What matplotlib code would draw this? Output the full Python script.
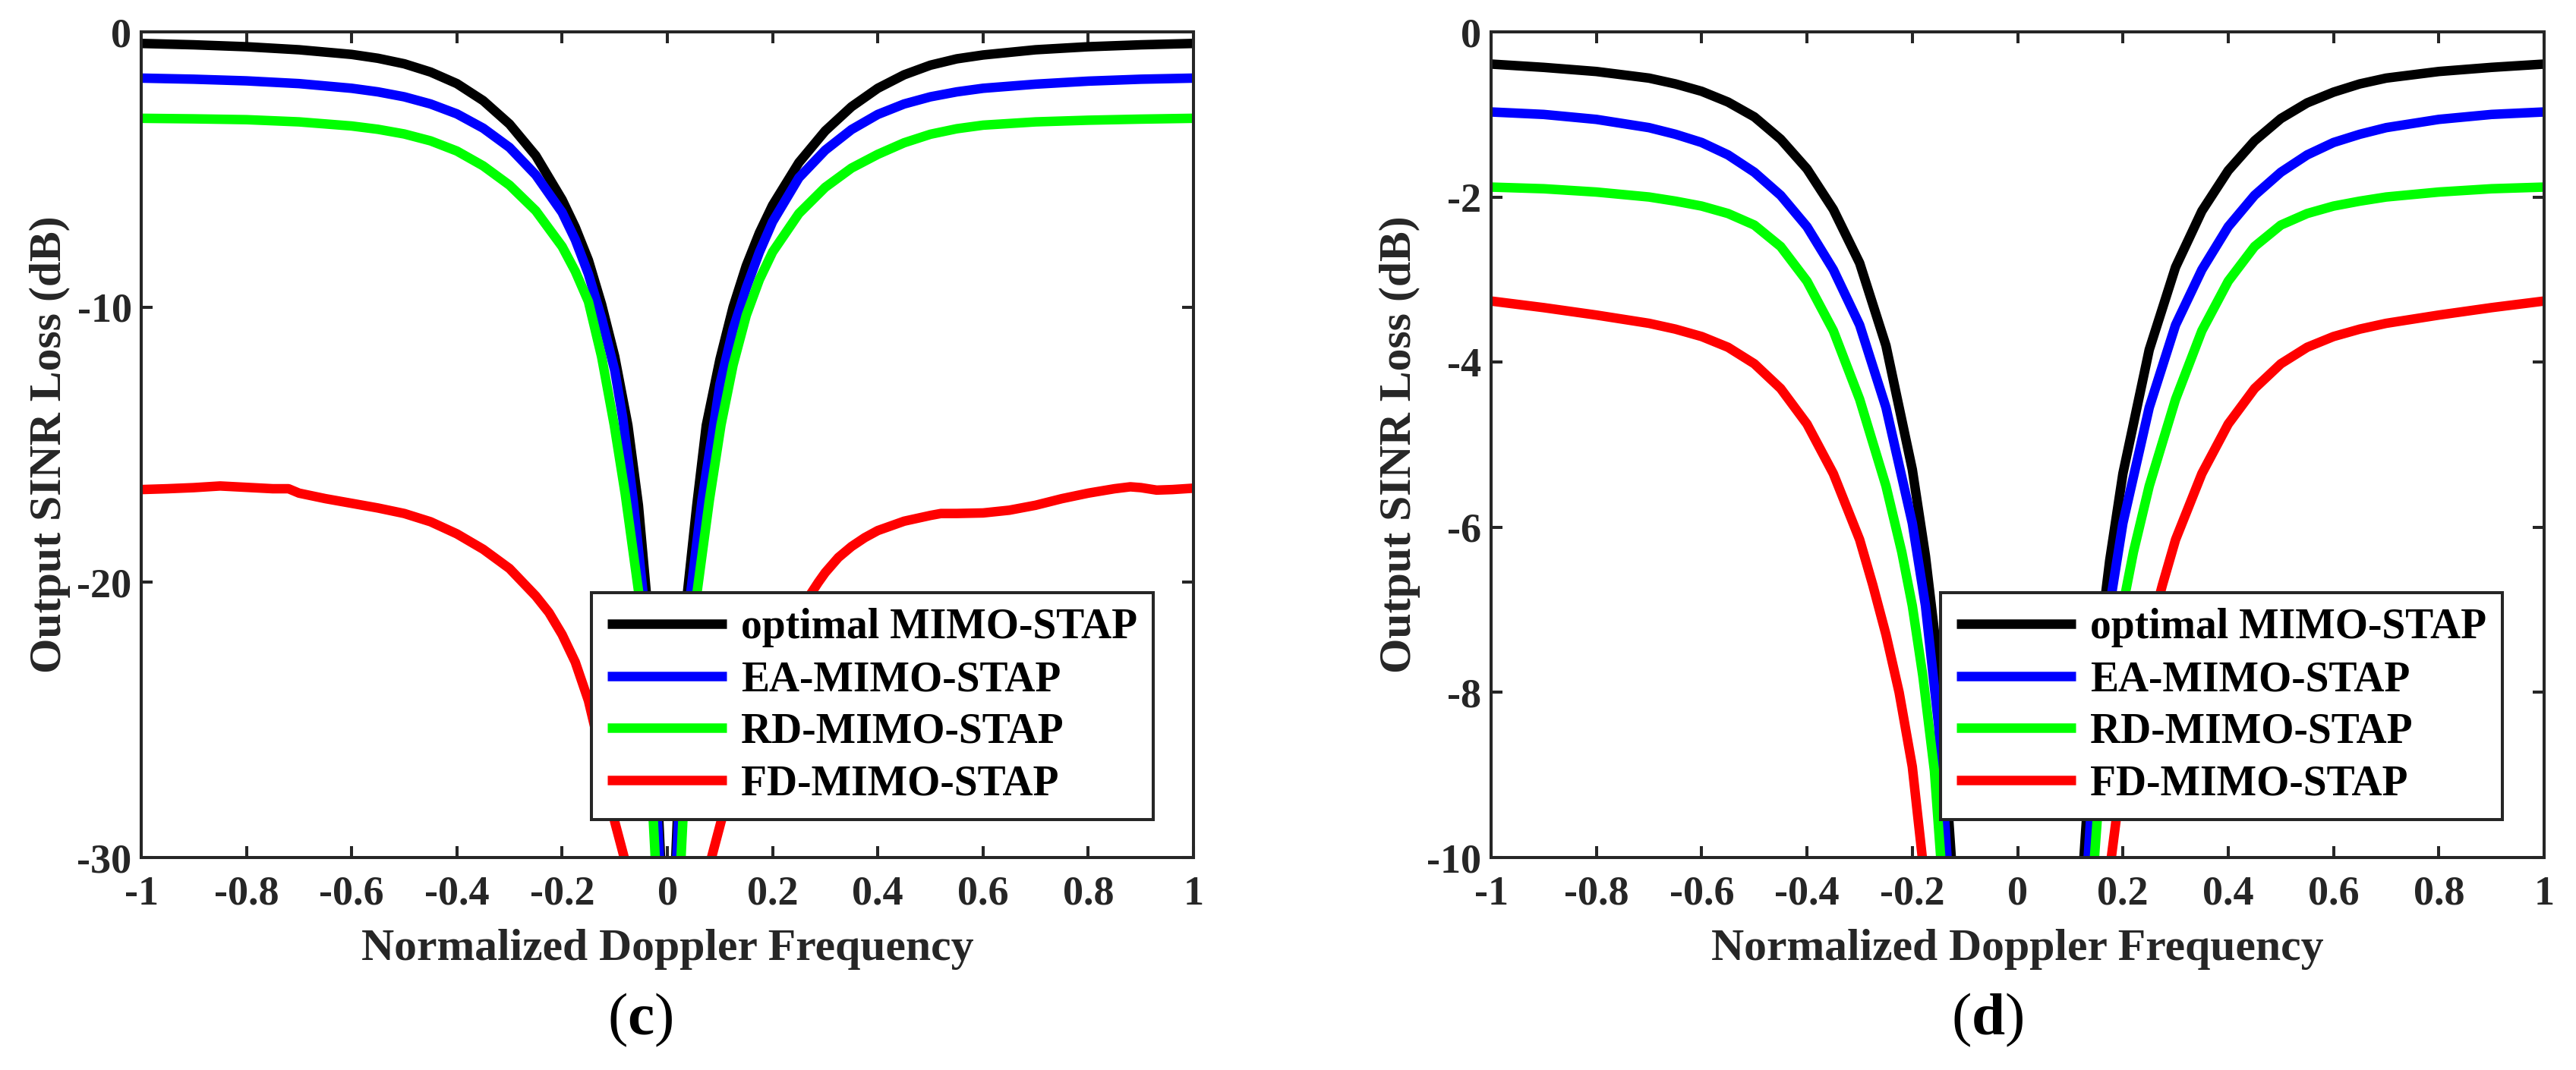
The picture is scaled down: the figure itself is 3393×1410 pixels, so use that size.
import matplotlib
matplotlib.use("Agg")
import matplotlib.pyplot as plt

plt.rcParams['font.family'] = ['Liberation Serif', 'DejaVu Serif']
plt.rcParams['font.weight'] = 'bold'
plt.rcParams['axes.labelweight'] = 'bold'
plt.rcParams['axes.unicode_minus'] = False
plt.rcParams['mathtext.fontset'] = 'custom'
plt.rcParams['mathtext.rm'] = 'Liberation Serif'
plt.rcParams['mathtext.bf'] = 'Liberation Serif:bold'

# ---------------- data: panel (c) ----------------
c_opt_x = [-1, -0.9, -0.8, -0.7, -0.6, -0.55, -0.5, -0.45, -0.4, -0.35, -0.3, -0.25, -0.2, -0.175, -0.15, -0.125,
           -0.1, -0.075, -0.055, -0.039, -0.026, -0.013, 0.0,
           0.016, 0.028, 0.037, 0.056, 0.074, 0.1, 0.125, 0.15, 0.175, 0.2, 0.25, 0.3, 0.35, 0.4, 0.45, 0.5,
           0.55, 0.6, 0.7, 0.8, 0.9, 1.0]
c_opt_y = [-0.42, -0.47, -0.54, -0.65, -0.82, -0.96, -1.16, -1.46, -1.88, -2.5, -3.35, -4.5, -6.1, -7.1, -8.3, -9.9,
           -11.8, -14.3, -17.2, -20.6, -24.5, -30.0, -40.0,
           -30.0, -24.5, -20.6, -17.2, -14.3, -11.9, -10.0, -8.5, -7.3, -6.3, -4.75, -3.6, -2.72, -2.05, -1.56, -1.21,
           -0.98, -0.84, -0.65, -0.54, -0.47, -0.42]

c_ea_x = [-1, -0.9, -0.8, -0.7, -0.6, -0.55, -0.5, -0.45, -0.4, -0.35, -0.3, -0.25, -0.2, -0.175, -0.15, -0.125,
          -0.1, -0.085, -0.065, -0.045, -0.03, -0.015, 0.0,
          0.018, 0.031, 0.043, 0.066, 0.088, 0.1, 0.125, 0.15, 0.175, 0.2, 0.25, 0.3, 0.35, 0.4, 0.45, 0.5,
          0.55, 0.6, 0.7, 0.8, 0.9, 1.0]
c_ea_y = [-1.68, -1.72, -1.78, -1.88, -2.05, -2.18, -2.36, -2.62, -2.98, -3.5, -4.2, -5.2, -6.56, -7.55, -8.8, -10.4,
          -12.3, -14.0, -17.0, -20.6, -24.8, -30.0, -40.0,
          -30.0, -24.8, -20.6, -17.0, -14.3, -12.8, -10.8, -9.3, -8.0, -6.9, -5.3, -4.3, -3.55, -3.0, -2.62, -2.36,
          -2.18, -2.05, -1.9, -1.79, -1.72, -1.68]

c_rd_x = [-1, -0.9, -0.8, -0.7, -0.6, -0.55, -0.5, -0.45, -0.4, -0.35, -0.3, -0.25, -0.2, -0.175, -0.15, -0.125,
          -0.101, -0.08, -0.053, -0.038, -0.023, 0.0,
          0.026, 0.04, 0.055, 0.08, 0.102, 0.125, 0.15, 0.175, 0.2, 0.25, 0.3, 0.35, 0.4, 0.45, 0.5,
          0.55, 0.6, 0.7, 0.8, 0.9, 1.0]
c_rd_y = [-3.14, -3.16, -3.19, -3.27, -3.42, -3.54, -3.71, -3.96, -4.33, -4.87, -5.57, -6.5, -7.8, -8.7, -9.8, -11.8,
          -14.28, -16.8, -20.57, -24.6, -30.0, -40.0,
          -30.0, -24.6, -20.57, -17.0, -14.28, -12.1, -10.3, -9.0, -8.0, -6.6, -5.65, -4.95, -4.45, -4.03, -3.72,
          -3.52, -3.39, -3.27, -3.21, -3.17, -3.14]

c_fd_x = [-1, -0.95, -0.9, -0.85, -0.8, -0.75, -0.72, -0.7, -0.65, -0.6, -0.55, -0.5, -0.45, -0.4, -0.35, -0.3,
          -0.25, -0.225, -0.2, -0.175, -0.15, -0.125, -0.1, -0.082, 0.0,
          0.084, 0.102, 0.15, 0.2, 0.264, 0.287, 0.3, 0.325, 0.35, 0.375, 0.4, 0.45, 0.5, 0.52, 0.55, 0.6, 0.65,
          0.7, 0.75, 0.8, 0.85, 0.88, 0.9, 0.93, 0.96, 1.0]
c_fd_y = [-16.63, -16.6, -16.56, -16.5, -16.55, -16.6, -16.6, -16.76, -16.96, -17.13, -17.3, -17.5, -17.8, -18.24,
          -18.8, -19.5, -20.5, -21.1, -21.9, -22.9, -24.3, -26.3, -28.7, -30.0, -45.0,
          -30.0, -28.7, -25.5, -22.8, -20.67, -20.0, -19.65, -19.1, -18.7, -18.38, -18.12, -17.78, -17.57, -17.5,
          -17.5, -17.48, -17.38, -17.2, -16.96, -16.76, -16.6, -16.53, -16.56, -16.65, -16.63, -16.58]

# ---------------- data: panel (d) ----------------
d_opt_x = [-1, -0.9, -0.8, -0.7, -0.65, -0.6, -0.55, -0.5, -0.45, -0.4, -0.35, -0.3, -0.25, -0.2, -0.175, -0.15,
           -0.126, 0.0,
           0.126, 0.15, 0.175, 0.2, 0.25, 0.3, 0.35, 0.4, 0.45, 0.5, 0.55, 0.6, 0.65, 0.7, 0.8, 0.9, 1.0]
d_opt_y = [-0.39, -0.43, -0.48, -0.56, -0.63, -0.72, -0.85, -1.03, -1.3, -1.66, -2.15, -2.8, -3.8, -5.3, -6.35, -7.7,
           -10.0, -15.0,
           -10.0, -7.7, -6.4, -5.35, -3.85, -2.85, -2.17, -1.68, -1.32, -1.05, -0.86, -0.73, -0.63, -0.56, -0.48,
           -0.43, -0.39]

d_ea_x = [-1, -0.9, -0.8, -0.7, -0.65, -0.6, -0.55, -0.5, -0.45, -0.4, -0.35, -0.3, -0.25, -0.2, -0.175, -0.15,
          -0.134, 0.0,
          0.134, 0.15, 0.175, 0.2, 0.25, 0.3, 0.35, 0.4, 0.45, 0.5, 0.55, 0.6, 0.65, 0.7, 0.8, 0.9, 1.0]
d_ea_y = [-0.97, -1.0, -1.06, -1.16, -1.24, -1.34, -1.49, -1.7, -1.98, -2.36, -2.88, -3.55, -4.55, -5.95, -6.95, -8.4,
          -10.0, -15.0,
          -10.0, -8.4, -6.95, -5.95, -4.55, -3.55, -2.88, -2.36, -1.98, -1.7, -1.49, -1.34, -1.24, -1.16, -1.06,
          -1.0, -0.97]

d_rd_x = [-1, -0.9, -0.8, -0.7, -0.65, -0.6, -0.55, -0.5, -0.45, -0.4, -0.35, -0.3, -0.25, -0.22, -0.2, -0.18,
          -0.158, -0.146, 0.0,
          0.146, 0.158, 0.18, 0.2, 0.22, 0.25, 0.3, 0.35, 0.4, 0.45, 0.5, 0.55, 0.6, 0.65, 0.7, 0.8, 0.9, 1.0]
d_rd_y = [-1.88, -1.9, -1.94, -2.0, -2.05, -2.11, -2.2, -2.34, -2.6, -3.02, -3.62, -4.45, -5.5, -6.3, -6.95, -7.8,
          -8.95, -10.0, -15.0,
          -10.0, -8.95, -7.8, -6.95, -6.3, -5.5, -4.45, -3.62, -3.02, -2.6, -2.34, -2.2, -2.11, -2.05, -2.0, -1.94,
          -1.9, -1.88]

d_fd_x = [-1, -0.9, -0.8, -0.7, -0.65, -0.6, -0.55, -0.5, -0.45, -0.4, -0.35, -0.3, -0.275, -0.25, -0.225, -0.2,
          -0.181, 0.0,
          0.178, 0.2, 0.225, 0.25, 0.275, 0.3, 0.35, 0.4, 0.45, 0.5, 0.55, 0.6, 0.65, 0.7, 0.8, 0.9, 1.0]
d_fd_y = [-3.26, -3.34, -3.43, -3.53, -3.6, -3.69, -3.82, -4.02, -4.32, -4.75, -5.35, -6.15, -6.7, -7.3, -8.0, -8.9,
          -10.0, -15.0,
          -10.0, -8.9, -8.0, -7.3, -6.7, -6.15, -5.35, -4.75, -4.32, -4.02, -3.82, -3.69, -3.6, -3.53, -3.43,
          -3.34, -3.26]

labels = ['optimal MIMO-STAP', 'EA-MIMO-STAP', 'RD-MIMO-STAP', 'FD-MIMO-STAP']
colors = ['#000000', '#0000FF', '#00FF00', '#FF0000']

x_ticks = [-1, -0.8, -0.6, -0.4, -0.2, 0, 0.2, 0.4, 0.6, 0.8, 1]
x_ticklabels = ['-1', '-0.8', '-0.6', '-0.4', '-0.2', '0', '0.2', '0.4', '0.6', '0.8', '1']
c_yticks = [-30, -20, -10, 0]
c_yticklabels = ['-30', '-20', '-10', '0']
d_yticks = [-10, -8, -6, -4, -2, 0]
d_yticklabels = ['-10', '-8', '-6', '-4', '-2', '0']

W, H = 3393, 1410
fig = plt.figure(figsize=(W / 100, H / 100), dpi=100)

axc = fig.add_axes([186 / W, 1 - 1130 / H, 1386 / W, 1088 / H])
axd = fig.add_axes([1964 / W, 1 - 1130 / H, 1387 / W, 1088 / H])

GRAY = '#262626'
LW = 9.0

panels = [
    (axc, [(c_opt_x, c_opt_y), (c_ea_x, c_ea_y), (c_rd_x, c_rd_y), (c_fd_x, c_fd_y)], (-30, 0), c_yticks,
     c_yticklabels, 0.9618),
    (axd, [(d_opt_x, d_opt_y), (d_ea_x, d_ea_y), (d_rd_x, d_rd_y), (d_fd_x, d_fd_y)], (-10, 0), d_yticks,
     d_yticklabels, 0.9603),
]

for ax, series, ylim, yt, ytl, lx in panels:
    for (xs, ys), col, lab in zip(series, colors, labels):
        ax.plot(xs, ys, color=col, lw=LW, label=lab, solid_capstyle='butt', solid_joinstyle='round')
    ax.set_xlim(-1, 1)
    ax.set_ylim(*ylim)
    ax.set_xticks(x_ticks)
    ax.set_xticklabels(x_ticklabels)
    ax.set_yticks(yt)
    ax.set_yticklabels(ytl)
    for s in ax.spines.values():
        s.set_linewidth(2.9)
        s.set_color(GRAY)
    ax.tick_params(axis='both', which='major', direction='in', length=10.5, width=2.9, color=GRAY,
                   labelcolor=GRAY, labelsize=39, top=True, right=True)
    ax.tick_params(axis='x', pad=17)
    ax.tick_params(axis='y', pad=9)
    ax.set_xlabel('Normalized Doppler Frequency', fontsize=43, color=GRAY)
    ax.set_ylabel('Output SINR Loss (dB)', fontsize=43, color=GRAY)
    ax.xaxis.set_label_coords(0.5, -0.0864)
    ax.yaxis.set_label_coords(-0.0671, 0.5)
    leg = ax.legend(loc='lower right', bbox_to_anchor=(lx, 0.046), borderaxespad=0, fontsize=40,
                    handlelength=2.84, handletextpad=0.34, borderpad=0.37, labelspacing=0.3,
                    fancybox=False, framealpha=1, frameon=True)
    leg.get_frame().set_edgecolor(GRAY)
    leg.get_frame().set_linewidth(2.9)
    for t in leg.get_texts():
        t.set_color('#000000')

fig.text(843 / W, 1 - 1344 / H, r'($\mathbf{c}$)', ha='center', va='center', fontsize=57,
         fontweight='normal', color='#000000')
fig.text(2618 / W, 1 - 1344 / H, r'($\mathbf{d}$)', ha='center', va='center', fontsize=57,
         fontweight='normal', color='#000000')

fig.savefig('out.png', dpi=100, facecolor='white')
